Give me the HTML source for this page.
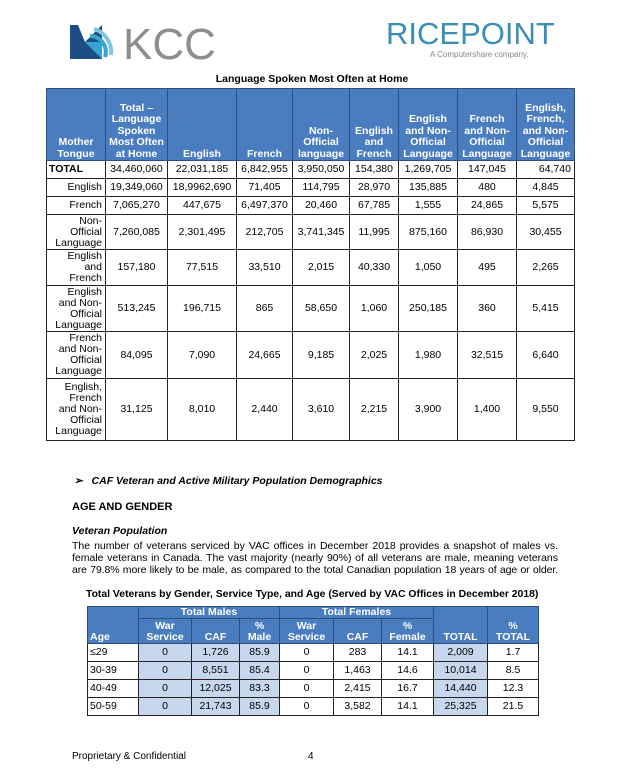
<!DOCTYPE html>
<html><head><meta charset="utf-8"><style>
body{margin:0;width:624px;height:770px;background:#fff;position:relative;font-family:"Liberation Sans",sans-serif;color:#000;overflow:hidden}
.a{position:absolute}
table{border-collapse:collapse;position:absolute;table-layout:fixed}
td{border:1px solid #222;padding:0 2px;font-size:10.5px;line-height:11px}
.t1 td{text-align:center}
.t1 .h td{background:#4a7cc0;color:#fff;font-weight:bold;vertical-align:bottom;border-color:#2c4f80;font-size:10.5px;line-height:11.5px;padding:0 3px}
.t1 td.r{text-align:right;padding:0 3px 0 6px}
.t2 .h td{background:#4a7cc0;color:#fff;font-weight:bold;border-color:#2c4f80;vertical-align:bottom;font-size:10.5px}
.t2 td{text-align:center;font-size:10.5px}
.lb{background:#c7d8ee}
.pl{position:absolute;left:72px;width:486px;font-size:10.5px;line-height:12px;white-space:nowrap;text-align:justify;text-align-last:justify}
</style></head><body>
<svg class="a" style="left:70px;top:20px" width="170" height="44">
<rect x="0" y="5" width="32" height="34" fill="#1d4d86"/>
<path d="M8 5 L32 5 L15 22 Z" fill="#fff"/>
<path d="M15 22 L32 39 L32 22Z" fill="#36a6d0"/>
<path d="M20 16 A16 16 0 0 1 35 37" stroke="#36a6d0" stroke-width="4" fill="none"/>
<path d="M24 9 A24 24 0 0 1 41 35" stroke="#7ec6e2" stroke-width="4" fill="none"/>
<text x="53" y="39" font-family="Liberation Sans" font-size="44" fill="#8c8e90">KCC</text>
</svg>
<div class="a" style="left:386px;top:16px;font-size:31px;color:#3b8fb4">RICEPOINT</div>
<div class="a" style="left:430px;top:50px;font-size:8px;color:#888">A Computershare company.</div>
<div class="a" style="left:0;width:624px;top:73px;text-align:center;font-size:10.5px;font-weight:bold">Language Spoken Most Often at Home</div>
<table class="t1" style="left:46px;top:88px;width:528px">
<colgroup><col style="width:59px"><col style="width:62px"><col style="width:69px"><col style="width:56px"><col style="width:57px"><col style="width:49px"><col style="width:59px"><col style="width:59px"><col style="width:58px"></colgroup>
<tr class="h" style="height:72px"><td>Mother Tongue</td><td>Total –<br>Language Spoken Most Often at Home</td><td>English</td><td>French</td><td>Non-<br>Official language</td><td>English and French</td><td>English and Non-Official Language</td><td>French and Non-Official Language</td><td>English, French, and Non-Official Language</td></tr>
<tr style="height:18px"><td style="text-align:left;font-weight:bold">TOTAL</td><td>34,460,060</td><td>22,031,185</td><td>6,842,955</td><td>3,950,050</td><td>154,380</td><td>1,269,705</td><td>147,045</td><td class="r">64,740</td></tr>
<tr style="height:18px"><td class="r">English</td><td>19,349,060</td><td>18,9962,690</td><td>71,405</td><td>114,795</td><td>28,970</td><td>135,885</td><td>480</td><td>4,845</td></tr>
<tr style="height:18px"><td class="r">French</td><td>7,065,270</td><td>447,675</td><td>6,497,370</td><td>20,460</td><td>67,785</td><td>1,555</td><td>24,865</td><td>5,575</td></tr>
<tr style="height:35px"><td class="r">Non-<br>Official Language</td><td>7,260,085</td><td>2,301,495</td><td>212,705</td><td>3,741,345</td><td>11,995</td><td>875,160</td><td>86,930</td><td>30,455</td></tr>
<tr style="height:36px"><td class="r">English<br>and<br>French</td><td>157,180</td><td>77,515</td><td>33,510</td><td>2,015</td><td>40,330</td><td>1,050</td><td>495</td><td>2,265</td></tr>
<tr style="height:46px"><td class="r">English<br>and Non-<br>Official Language</td><td>513,245</td><td>196,715</td><td>865</td><td>58,650</td><td>1,060</td><td>250,185</td><td>360</td><td>5,415</td></tr>
<tr style="height:47px"><td class="r">French<br>and Non-<br>Official Language</td><td>84,095</td><td>7,090</td><td>24,665</td><td>9,185</td><td>2,025</td><td>1,980</td><td>32,515</td><td>6,640</td></tr>
<tr style="height:62px"><td class="r">English,<br>French<br>and Non-<br>Official Language</td><td>31,125</td><td>8,010</td><td>2,440</td><td>3,610</td><td>2,215</td><td>3,900</td><td>1,400</td><td>9,550</td></tr>
</table>
<div class="a" style="left:74px;top:475px;font-size:10.5px;font-weight:bold;font-style:italic">➢&nbsp;&nbsp;&nbsp;CAF Veteran and Active Military Population Demographics</div>
<div class="a" style="left:72px;top:501px;font-size:11px;font-weight:bold">AGE AND GENDER</div>
<div class="a" style="left:72px;top:525px;font-size:10.5px;font-weight:bold;font-style:italic">Veteran Population</div>
<div class="pl" style="top:540px">The number of veterans serviced by VAC offices in December 2018 provides a snapshot of males vs.</div>
<div class="pl" style="top:552px">female veterans in Canada. The vast majority (nearly 90%) of all veterans are male, meaning veterans</div>
<div class="pl" style="top:564px;letter-spacing:-0.1px">are 79.8% more likely to be male, as compared to the total Canadian population 18 years of age or older.</div>
<div class="a" style="left:86px;top:589px;font-size:10.4px;font-weight:bold;white-space:nowrap">Total Veterans by Gender, Service Type, and Age (Served by VAC Offices in December 2018)</div>
<table class="t2" style="left:87px;top:606px;width:451px">
<colgroup><col style="width:51px"><col style="width:53px"><col style="width:48px"><col style="width:40px"><col style="width:54px"><col style="width:48px"><col style="width:52px"><col style="width:54px"><col style="width:51px"></colgroup>
<tr class="h" style="height:11px"><td rowspan="2" style="text-align:left">Age</td><td colspan="3">Total Males</td><td colspan="3">Total Females</td><td rowspan="2">TOTAL</td><td rowspan="2">%<br>TOTAL</td></tr>
<tr class="h" style="height:25px"><td>War Service</td><td>CAF</td><td>%<br>Male</td><td>War Service</td><td>CAF</td><td>%<br>Female</td></tr>
<tr style="height:18px"><td style="text-align:left">≤29</td><td class="lb">0</td><td class="lb">1,726</td><td class="lb">85.9</td><td>0</td><td>283</td><td>14.1</td><td class="lb">2,009</td><td>1.7</td></tr>
<tr style="height:18px"><td style="text-align:left">30-39</td><td class="lb">0</td><td class="lb">8,551</td><td class="lb">85.4</td><td>0</td><td>1,463</td><td>14.6</td><td class="lb">10,014</td><td>8.5</td></tr>
<tr style="height:18px"><td style="text-align:left">40-49</td><td class="lb">0</td><td class="lb">12,025</td><td class="lb">83.3</td><td>0</td><td>2,415</td><td>16.7</td><td class="lb">14,440</td><td>12.3</td></tr>
<tr style="height:18px"><td style="text-align:left">50-59</td><td class="lb">0</td><td class="lb">21,743</td><td class="lb">85.9</td><td>0</td><td>3,582</td><td>14.1</td><td class="lb">25,325</td><td>21.5</td></tr>
</table>
<div class="a" style="left:72px;top:751px;font-size:10px">Proprietary &amp; Confidential</div>
<div class="a" style="left:308px;top:751px;font-size:10px">4</div>
</body></html>
